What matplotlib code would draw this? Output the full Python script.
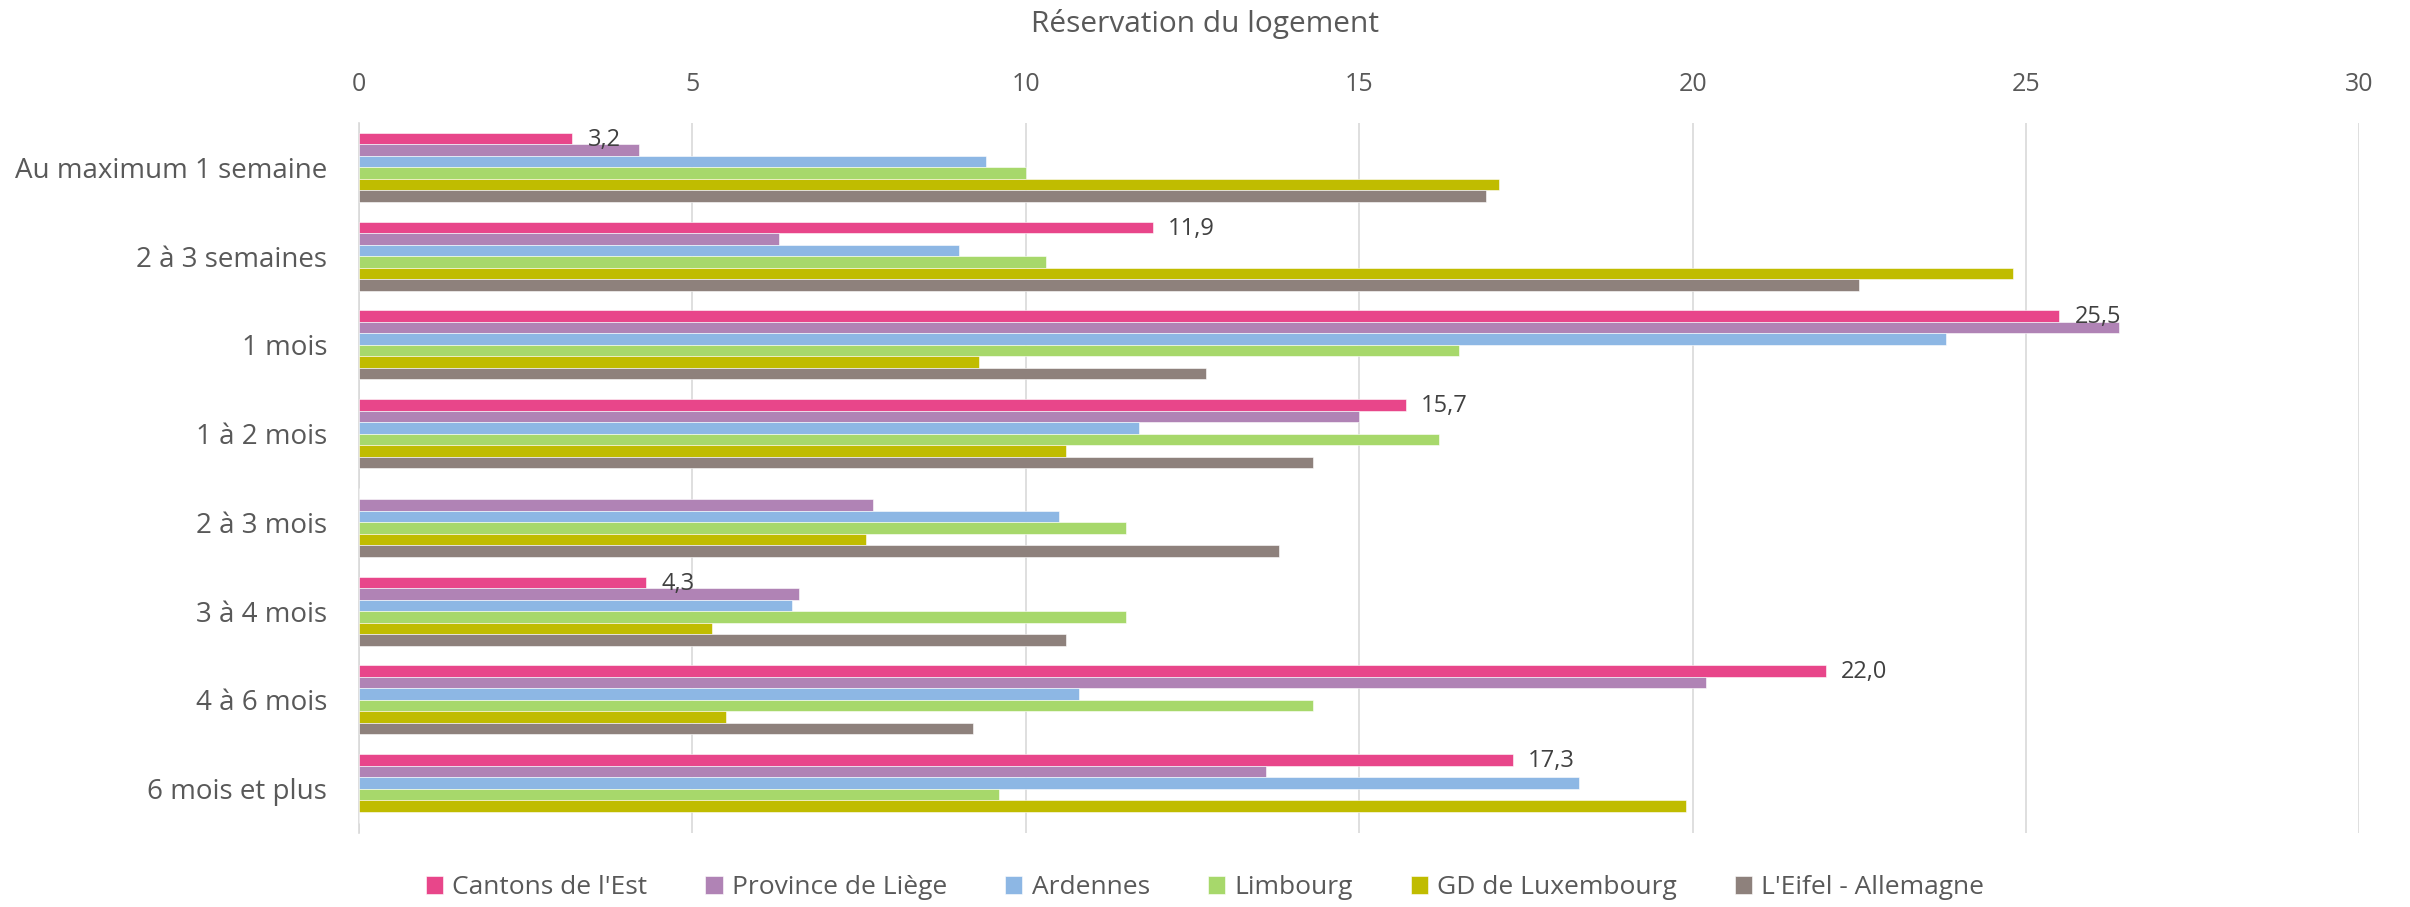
import matplotlib
matplotlib.use('Agg')
import matplotlib.pyplot as plt
import numpy as np

plt.rcParams.update({
    'font.family': ['Open Sans', 'DejaVu Sans'],
    'font.size': 16,
})

categories = ['Au maximum 1 semaine', '2 à 3 semaines', '1 mois', '1 à 2 mois',
              '2 à 3 mois', '3 à 4 mois', '4 à 6 mois', '6 mois et plus']
series_names = ["Cantons de l'Est", 'Province de Liège', 'Ardennes', 'Limbourg',
                'GD de Luxembourg', "L'Eifel - Allemagne"]
cantons = [3.2, 11.9, 25.5, 15.7, 0.0, 4.3, 22.0, 17.3]
province = [4.2, 6.3, 26.4, 15.0, 7.7, 6.6, 20.2, 13.6]
ardennes = [9.4, 9.0, 23.8, 11.7, 10.5, 6.5, 10.8, 18.3]
limbourg = [10.0, 10.3, 16.5, 16.2, 11.5, 11.5, 14.3, 9.6]
luxembourg = [17.1, 24.8, 9.3, 10.6, 7.6, 5.3, 5.5, 19.9]
eifel = [16.9, 22.5, 12.7, 14.3, 13.8, 10.6, 9.2, 0.0]
colors = ['#E8468A', '#B083B5', '#8DB7E4', '#A7D86B', '#C0BC00', '#8E817C']

all_series = [cantons, province, ardennes, limbourg, luxembourg, eifel]
TXT = '#595959'

fig = plt.figure(figsize=(24.1, 9.07), dpi=100)
ax = fig.add_axes([0.149, 0.0816, 0.830, 0.7828])

y = np.arange(len(categories))
h = 0.13
for j, (vals, name, col) in enumerate(zip(all_series, series_names, colors)):
    ax.barh(y + (j - 2.5) * h, vals, height=h, color=col, label=name,
            edgecolor='white', linewidth=0.4, zorder=3)

# étiquettes de données (Cantons de l'Est seulement)
for i, v in enumerate(cantons):
    if v > 0:
        ax.annotate(f'{v:.1f}'.replace('.', ','), (v, y[i] - 2.5 * h),
                    xytext=(11, -1), textcoords='offset points',
                    va='center', ha='left', color='#404040', fontsize=17, zorder=4)

ax.set_xlim(0, 30)
ax.set_ylim(len(categories) - 0.5, -0.5)
ax.set_xticks(np.arange(0, 31, 5))
ax.set_yticks(y)
ax.set_yticklabels(categories, fontsize=20)
ax.xaxis.tick_top()
ax.tick_params(axis='both', length=0, colors=TXT)
ax.tick_params(axis='x', pad=19, labelsize=18)
ax.tick_params(axis='y', pad=23)
ax.grid(axis='x', color='#D9D9D9', lw=1.2, zorder=0)
for s in ['top', 'right', 'bottom']:
    ax.spines[s].set_visible(False)
ax.spines['left'].set_color('#D9D9D9')
ax.spines['left'].set_linewidth(1.2)

# titre de l'axe, centré sur la figure
fig.text(0.5, 0.973, 'Réservation du logement', fontsize=21.5, color=TXT,
         ha='center', va='center')

leg = fig.legend(loc='center', bbox_to_anchor=(0.5, 0.021), ncol=6, frameon=False,
                 fontsize=19, handlelength=0.65, handleheight=0.7, handletextpad=0.35,
                 columnspacing=2.2)
for t in leg.get_texts():
    t.set_color(TXT)

fig.savefig('out.png', dpi=100)
